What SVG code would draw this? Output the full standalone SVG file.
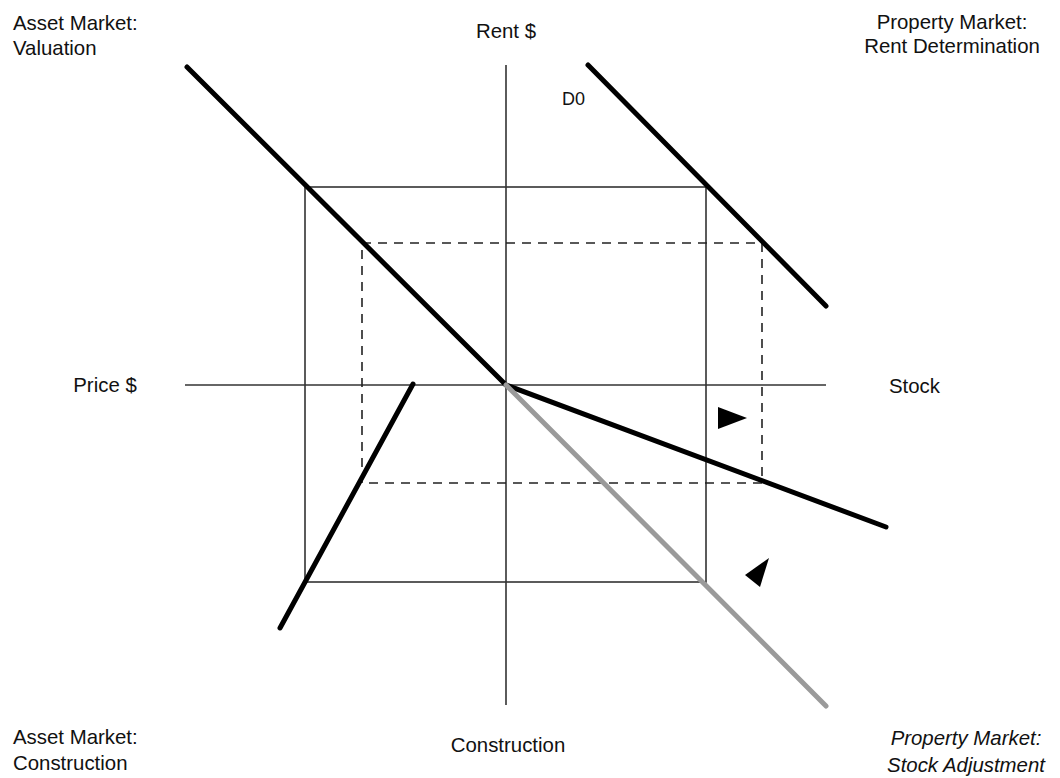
<svg xmlns="http://www.w3.org/2000/svg" width="1060" height="778" viewBox="0 0 1060 778">
<style>
text{font-family:"Liberation Sans",Arial,sans-serif;font-size:20.4px;fill:#111}
.it{font-style:italic}
.axis{stroke:#333;stroke-width:1.6;fill:none}
.box{stroke:#333;stroke-width:1.6;fill:none}
.dash{stroke:#222;stroke-width:1.6;fill:none;stroke-dasharray:9 7}
.curve{stroke:#000;stroke-width:5;fill:none;stroke-linecap:round}
.gray{stroke:#9a9a9a;stroke-width:5;fill:none;stroke-linecap:round}
</style>
<rect width="1060" height="778" fill="#fff"/>
<g id="labels">
<text x="13" y="30">Asset Market:</text>
<text x="13" y="55">Valuation</text>
<text x="952" y="29" text-anchor="middle">Property Market:</text>
<text x="952" y="53" text-anchor="middle">Rent Determination</text>
<text x="506" y="38" text-anchor="middle">Rent $</text>
<text x="562" y="105" style="font-size:18px">D0</text>
<text x="105" y="392" text-anchor="middle">Price $</text>
<text x="889" y="393">Stock</text>
<text x="13" y="744">Asset Market:</text>
<text x="13" y="770">Construction</text>
<text x="508" y="752" text-anchor="middle">Construction</text>
<text class="it" x="966" y="745" text-anchor="middle">Property Market:</text>
<text class="it" x="966" y="772" text-anchor="middle">Stock Adjustment</text>
</g>
<g id="axes">
<line class="axis" x1="506" y1="65" x2="506" y2="705"/>
<line class="axis" x1="185" y1="385" x2="826" y2="385"/>
</g>
<g id="boxes">
<rect class="box" x="305" y="187" width="401" height="395"/>
<rect class="dash" x="362" y="243" width="400" height="240"/>
</g>
<g id="connectors">
<line id="valuation" class="curve" x1="187" y1="67" x2="506" y2="385"/>
<line id="demand" class="curve" x1="588" y1="65" x2="826" y2="306"/>
<line id="stock" class="curve" x1="506" y1="385" x2="886" y2="527"/>
<line id="adjust" class="gray" x1="506" y1="385" x2="826" y2="706"/>
<line id="construction" class="curve" x1="413" y1="384" x2="280" y2="628"/>
</g>
<g id="markers">
<polygon points="718,407 747,418 718,429" fill="#000"/>
<polygon points="745,575 769,558 760,587" fill="#000"/>
</g>
</svg>
